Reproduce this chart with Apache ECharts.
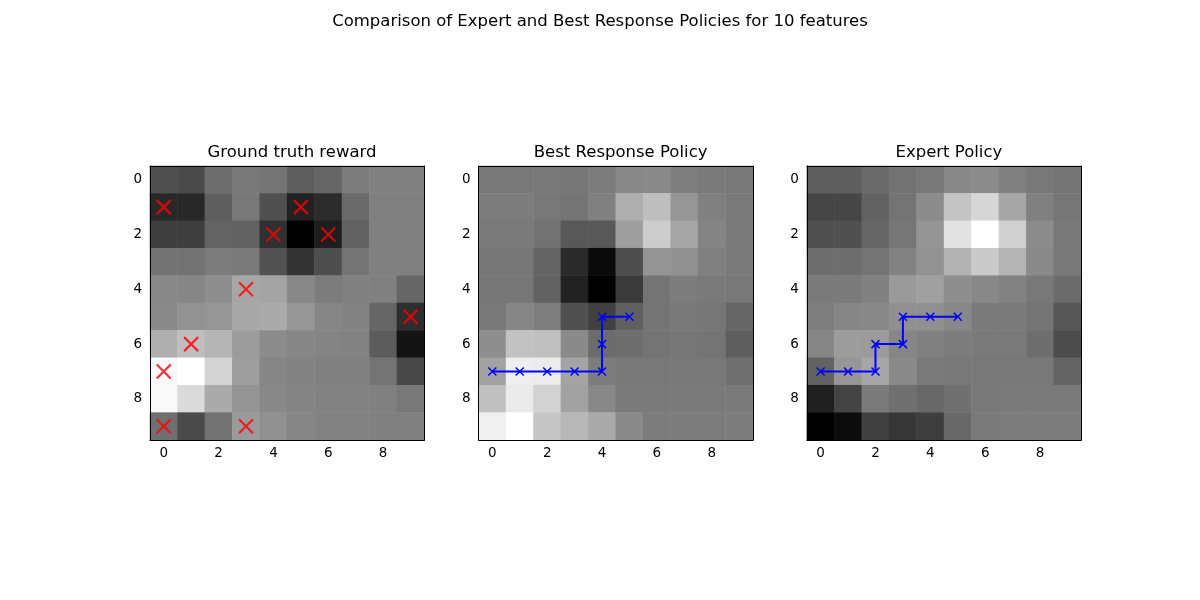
<!DOCTYPE html>
<html>
<head>
<meta charset="utf-8" />
<title>Expert vs Best Response</title>
<script src="https://cdn.jsdelivr.net/npm/echarts@6/dist/echarts.min.js"></script>
<style>
  * { margin: 0; padding: 0; }
  html, body { width: 1200px; height: 600px; background: #fff; }
  #main { width: 1200px; height: 600px; }
</style>
</head>
<body>
<div id="main"></div>
<script>
// grid cells, 0..9
var cells = ['0', '1', '2', '3', '4', '5', '6', '7', '8', '9'];
var panelTitles = ['Ground truth reward', 'Best Response Policy', 'Expert Policy'];

// gray level of each cell (0 = black, 255 = white), rows top to bottom
var groundTruth = [
  [79, 74, 110, 120, 116, 94, 102, 124, 128, 128],
  [40, 40, 94, 120, 80, 34, 44, 106, 128, 128],
  [62, 62, 100, 98, 48, 0, 30, 98, 128, 128],
  [114, 114, 124, 122, 82, 52, 78, 116, 128, 128],
  [136, 134, 142, 166, 164, 136, 124, 128, 128, 102],
  [138, 146, 150, 168, 170, 150, 134, 130, 102, 46],
  [174, 190, 180, 156, 140, 134, 132, 130, 92, 20],
  [248, 255, 212, 158, 134, 130, 128, 128, 116, 72],
  [250, 218, 170, 148, 136, 132, 130, 130, 128, 120],
  [112, 74, 114, 154, 144, 134, 130, 130, 128, 128]
];
var bestResponse = [
  [120, 120, 120, 118, 124, 136, 138, 126, 122, 120],
  [124, 124, 120, 116, 128, 174, 190, 150, 128, 122],
  [122, 122, 114, 88, 88, 158, 204, 166, 132, 122],
  [118, 118, 100, 42, 10, 78, 148, 144, 128, 122],
  [118, 118, 98, 34, 0, 58, 116, 124, 122, 120],
  [120, 134, 126, 80, 64, 96, 116, 120, 118, 102],
  [142, 194, 192, 138, 108, 110, 116, 118, 116, 94],
  [162, 238, 236, 164, 124, 120, 120, 120, 120, 112],
  [192, 234, 210, 162, 136, 122, 122, 122, 122, 122],
  [240, 255, 198, 184, 170, 138, 124, 124, 124, 124]
];
var expert = [
  [94, 94, 106, 114, 120, 136, 140, 128, 120, 116],
  [70, 70, 98, 116, 140, 196, 214, 166, 128, 118],
  [80, 80, 102, 118, 148, 226, 255, 208, 140, 120],
  [110, 110, 116, 130, 146, 178, 202, 180, 138, 120],
  [122, 122, 128, 154, 160, 142, 136, 130, 120, 108],
  [126, 134, 136, 144, 144, 136, 122, 122, 116, 86],
  [134, 156, 154, 134, 128, 124, 122, 122, 110, 76],
  [98, 150, 166, 138, 122, 120, 120, 120, 120, 100],
  [32, 68, 122, 112, 104, 112, 120, 122, 122, 122],
  [0, 12, 64, 54, 62, 104, 122, 124, 124, 124]
];

// [col, row]
var rewardMarks = [[0, 1], [5, 1], [4, 2], [6, 2], [3, 4], [9, 5], [1, 6], [0, 7], [0, 9], [3, 9]];
var bestPath = [[0, 7], [1, 7], [2, 7], [3, 7], [4, 7], [4, 6], [4, 5], [5, 5]];
var expertPath = [[0, 7], [1, 7], [2, 7], [2, 6], [3, 6], [3, 5], [4, 5], [5, 5]];

var maps = [groundTruth, bestResponse, expert];
var lefts = [150, 478.6, 806.9];
var font = 'DejaVu Sans';
var cross = 'path://M0,0L10,10M10,0L0,10';

function toCells(m) {
  var out = [];
  for (var r = 0; r < m.length; r++)
    for (var c = 0; c < m[r].length; c++) out.push([c, r, m[r][c]]);
  return out;
}

var grids = [], xAxes = [], yAxes = [], series = [], visualMaps = [], titles = [];

titles.push({
  text: 'Comparison of Expert and Best Response Policies for 10 features',
  left: 'center', top: 8,
  textStyle: { fontFamily: font, fontSize: 16.5, fontWeight: 'normal', color: '#000' }
});

for (var i = 0; i < 3; i++) {
  grids.push({ left: lefts[i], top: 166, width: 274.3, height: 274 });
  titles.push({
    text: panelTitles[i],
    left: lefts[i] + 137, top: 139, textAlign: 'center',
    textStyle: { fontFamily: font, fontSize: 16.5, fontWeight: 'normal', color: '#000' }
  });
  // bottom / left axes with labels
  xAxes.push({
    type: 'category', gridIndex: i, data: cells, position: 'bottom', z: 5,
    axisLine: { lineStyle: { color: '#000', width: 1 } },
    axisTick: { alignWithLabel: true, interval: 1, length: 5, lineStyle: { color: '#000' } },
    axisLabel: { interval: 1, margin: 6, color: '#000', fontFamily: font, fontSize: 13.5 },
    splitLine: { show: false }
  });
  yAxes.push({
    type: 'category', gridIndex: i, data: cells, inverse: true, position: 'left', z: 5,
    axisLine: { lineStyle: { color: '#000', width: 1 } },
    axisTick: { alignWithLabel: true, interval: 1, length: 5, lineStyle: { color: '#000' } },
    axisLabel: { interval: 1, margin: 8, color: '#000', fontFamily: font, fontSize: 13.5 },
    splitLine: { show: false }
  });
  // top / right spines
  xAxes.push({
    type: 'category', gridIndex: i, data: cells, position: 'top', z: 5,
    axisLine: { lineStyle: { color: '#000', width: 1 } },
    axisTick: { show: false }, axisLabel: { show: false }
  });
  yAxes.push({
    type: 'category', gridIndex: i, data: cells, inverse: true, position: 'right', z: 5,
    axisLine: { lineStyle: { color: '#000', width: 1 } },
    axisTick: { show: false }, axisLabel: { show: false }
  });

  series.push({
    type: 'heatmap', xAxisIndex: i * 2, yAxisIndex: i * 2,
    data: toCells(maps[i]), itemStyle: { borderWidth: 0 },
    emphasis: { disabled: true }
  });
  visualMaps.push({
    type: 'continuous', show: false, seriesIndex: i,
    min: 0, max: 255, dimension: 2,
    inRange: { color: ['#000000', '#ffffff'] }
  });
}

// red crosses on the reward map
series.push({
  type: 'scatter', xAxisIndex: 0, yAxisIndex: 0, z: 4,
  data: rewardMarks, symbol: cross, symbolSize: 14,
  itemStyle: { color: 'transparent', borderColor: '#ff0000', borderWidth: 2.2 }
});
// policy paths
[bestPath, expertPath].forEach(function (p, k) {
  series.push({
    type: 'line', xAxisIndex: (k + 1) * 2, yAxisIndex: (k + 1) * 2, z: 4,
    data: p, symbol: cross, symbolSize: 8, showSymbol: true,
    lineStyle: { color: '#0000ff', width: 2 },
    itemStyle: { color: 'transparent', borderColor: '#0000ff', borderWidth: 1.5 },
    animation: false
  });
});

var chart = echarts.init(document.getElementById('main'));
chart.setOption({
  animation: false,
  backgroundColor: '#fff',
  title: titles,
  grid: grids,
  xAxis: xAxes,
  yAxis: yAxes,
  visualMap: visualMaps,
  series: series
});
</script>
</body>
</html>
